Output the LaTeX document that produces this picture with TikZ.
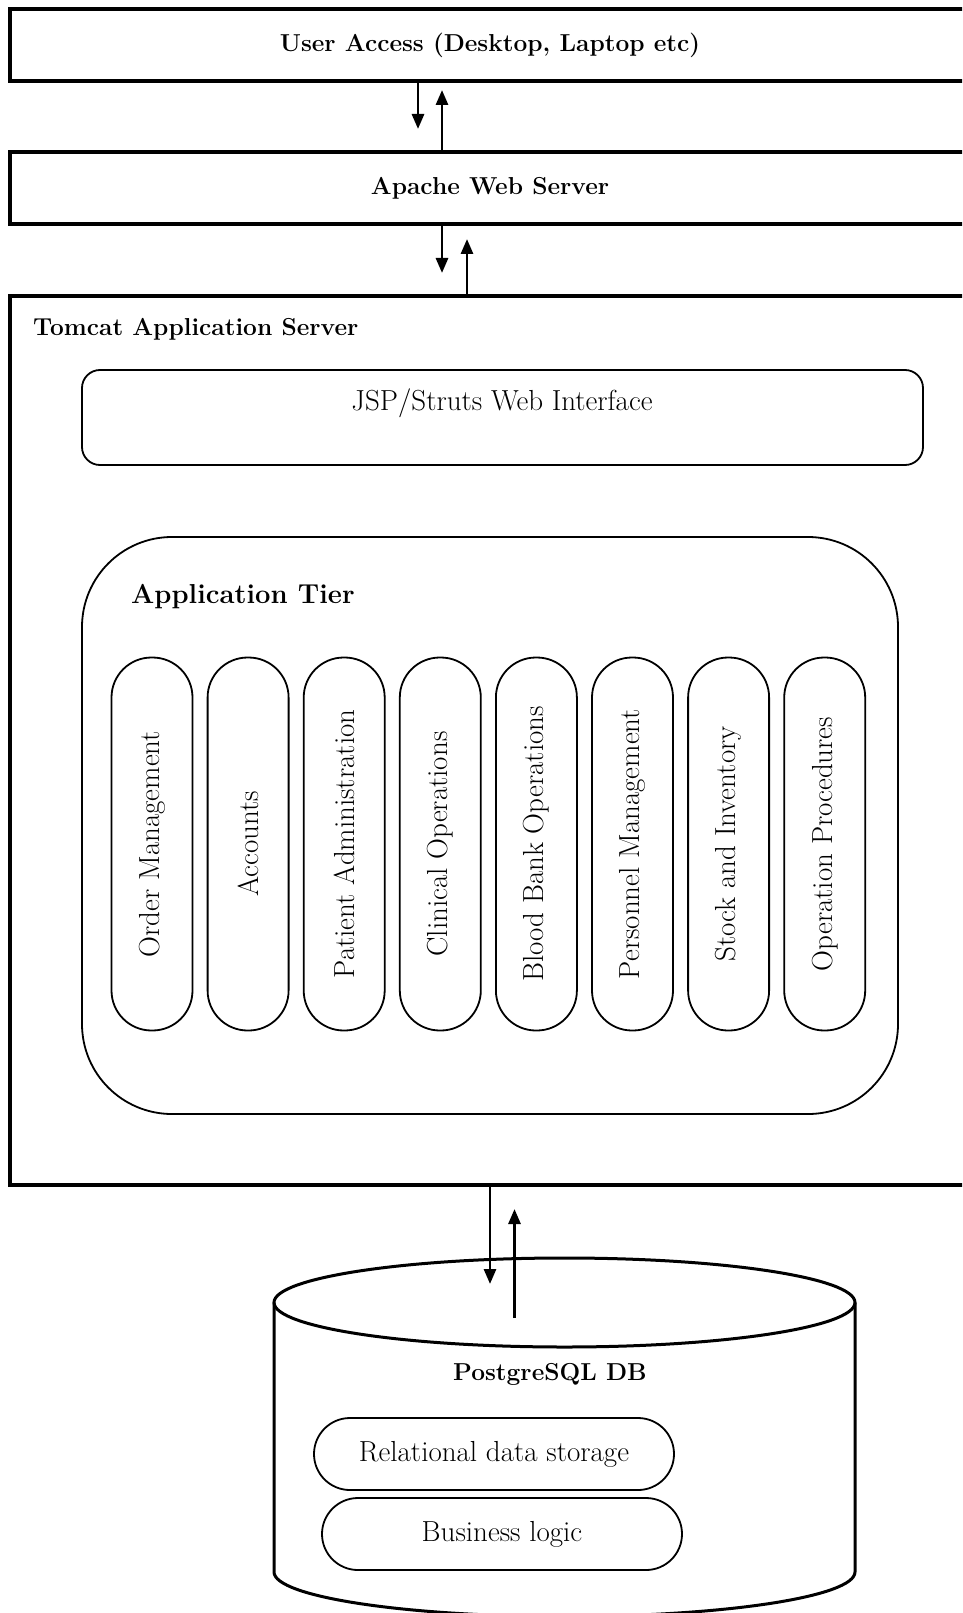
\documentclass[tikz,border=0pt]{standalone}
\usetikzlibrary{arrows.meta}
\newcommand\myboldfont{\fontsize{24.5}{29}\selectfont\bfseries}
\newcommand\myregfont{\fontsize{29}{34}\selectfont}
\newcommand\mytierfont{\fontsize{27.4}{33}\selectfont\bfseries}
\begin{document}
\begin{tikzpicture}[x=1pt,y=-1pt,
  outerbox/.style={draw, line width=3.5pt, rectangle, inner sep=0pt, font=\myboldfont},
  innerbox/.style={draw, line width=1.8pt, rectangle, inner sep=0pt},
  pill/.style={draw, line width=1.8pt, rectangle, rounded corners=40pt, inner sep=0pt,
     minimum width=373pt, minimum height=81pt, rotate=90, font=\myregfont},
  dbitem/.style={draw, line width=1.8pt, rectangle, rounded corners=36pt, inner sep=0pt,
     minimum width=360pt, minimum height=72pt, font=\myregfont},
  cyl/.style={line width=3pt},
  conn/.style={line width=2.8pt, -{Triangle[length=15pt,width=12pt]}}]
\useasboundingbox (0,0) rectangle (962,1613);
\clip (0,0) rectangle (962,1613);
\fill[white] (0,0) rectangle (962,1613);

% top tiers
\node[outerbox, minimum width=960pt, minimum height=72pt] (user) at (490,45) {User Access (Desktop, Laptop etc)};
\node[outerbox, minimum width=960pt, minimum height=72pt] (apache) at (490,188) {Apache Web Server};
\node[outerbox, minimum width=960pt, minimum height=889pt] (tomcat) at (490,740.5) {};
\node[font=\myboldfont, anchor=west, inner sep=0pt] (tomcatlabel) at (33,329) {Tomcat Application Server};

% arrows
\coordinate (d1) at (418,129);
\coordinate (u1) at (442,90);
\draw[conn] (d1 |- user.south) -- (d1);
\draw[conn] (u1 |- apache.north) -- (u1);
\coordinate (d2) at (442,273);
\coordinate (u2) at (467,239);
\draw[conn] (d2 |- apache.south) -- (d2);
\draw[conn] (u2 |- tomcat.north) -- (u2);

% JSP
\node[innerbox, rounded corners=18pt, minimum width=841pt, minimum height=95pt] (jsp) at (502.5,417.5) {};
\node[font=\myregfont, inner sep=0pt] (jsptext) at (502,403) {JSP/Struts Web Interface};

% Application tier
\node[innerbox, rounded corners=90pt, minimum width=816pt, minimum height=577pt] (tier) at (490,825.5) {};
\node[font=\mytierfont, anchor=west, inner sep=0pt] (tierlabel) at (131,597) {Application Tier};

\foreach \i/\t in {0/Order Management, 1/Accounts, 2/Patient Administration, 3/Clinical Operations,
                   4/Blood Bank Operations, 5/Personnel Management, 6/Stock and Inventory, 7/Operation Procedures}
  \node[pill] (p\i) at ({152+96.1*\i},844) {\t};

% database cylinder
\coordinate (dbc) at (564.5,1302.5);
\draw[cyl] (274,1302.5) -- (274,1572) arc[start angle=180, end angle=0, x radius=290.5, y radius=44.5] -- (855,1302.5);
\draw[cyl] (dbc) ellipse [x radius=290.5, y radius=44.5];

\coordinate (d3) at (490,1284);
\coordinate (u3s) at (514.5,1318);
\coordinate (u3) at (514.5,1209);
\draw[conn] (d3 |- tomcat.south) -- (d3);
\draw[conn] (u3s) -- (u3);

\node[font=\myboldfont, inner sep=0pt] (dblabel) at (550,1374) {PostgreSQL DB};
\node[dbitem] (rel) at (494,1454) {Relational data storage};
\node[dbitem] (biz) at (502,1534) {Business logic};
\end{tikzpicture}
\end{document}
